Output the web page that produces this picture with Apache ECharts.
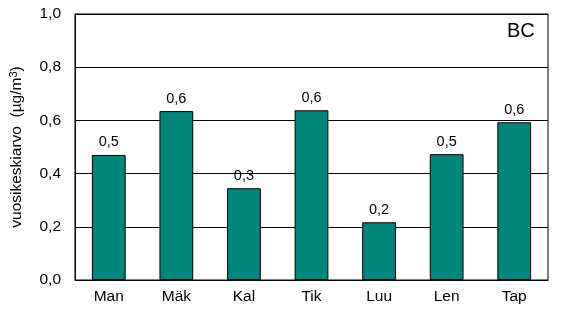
<!DOCTYPE html>
<html>
<head>
<meta charset="utf-8">
<script src="https://cdn.jsdelivr.net/npm/echarts@6/dist/echarts.min.js"></script>
<style>html,body{margin:0;padding:0;background:#fff;}#c{width:566px;height:329px;}</style>
</head>
<body>
<div id="c"></div>
<script>
const categories = ['Man', 'Mäk', 'Kal', 'Tik', 'Luu', 'Len', 'Tap'];
const values = [0.47, 0.635, 0.345, 0.638, 0.217, 0.473, 0.593];
const yTicks = [0, 0.2, 0.4, 0.6, 0.8, 1.0];
const yAxisName = 'vuosikeskiarvo  (µg/m{s|3})';
const panelLabel = 'BC';

const fmt = v => Number(v).toFixed(1).replace('.', ',');
const font = 'Liberation Sans, Arial, sans-serif';

const chart = echarts.init(document.getElementById('c'), null, {renderer: 'canvas'});
chart.setOption({
  animation: false,
  backgroundColor: '#fff',
  grid: {left: 74, right: 18, top: 14, bottom: 49, show: true, borderColor: '#000', borderWidth: 1, backgroundColor: 'transparent'},
  xAxis: {
    type: 'category',
    data: categories,
    axisLine: {lineStyle: {color: '#000', width: 1}},
    axisTick: {show: false},
    axisLabel: {color: '#000', fontSize: 15.5, fontFamily: font, margin: 9}
  },
  yAxis: {
    type: 'value',
    min: yTicks[0],
    max: yTicks[yTicks.length - 1],
    interval: yTicks[1] - yTicks[0],
    name: yAxisName,
    nameLocation: 'middle',
    nameGap: 49,
    nameTextStyle: {color: '#000', fontSize: 15.5, fontFamily: font,
      rich: {s: {fontSize: 11, fontFamily: font, color: '#000', verticalAlign: 'top', lineHeight: 18}}},
    axisLine: {show: true, lineStyle: {color: '#000', width: 1}},
    axisTick: {show: false},
    splitLine: {lineStyle: {color: '#000', width: 1}},
    axisLabel: {color: '#000', fontSize: 15.5, fontFamily: font, margin: 14, formatter: fmt}
  },
  series: [{
    type: 'bar',
    data: values,
    barCategoryGap: '50%',
    itemStyle: {color: '#00867C', borderColor: '#000', borderWidth: 1},
    label: {show: true, position: 'top', distance: 5, color: '#000', fontSize: 14.5, fontFamily: font, formatter: p => fmt(p.value)}
  }],
  graphic: [{
    type: 'text',
    left: 507,
    top: 21,
    style: {text: panelLabel, fontSize: 20, fontFamily: font, fill: '#000'}
  }]
});
</script>
</body>
</html>
